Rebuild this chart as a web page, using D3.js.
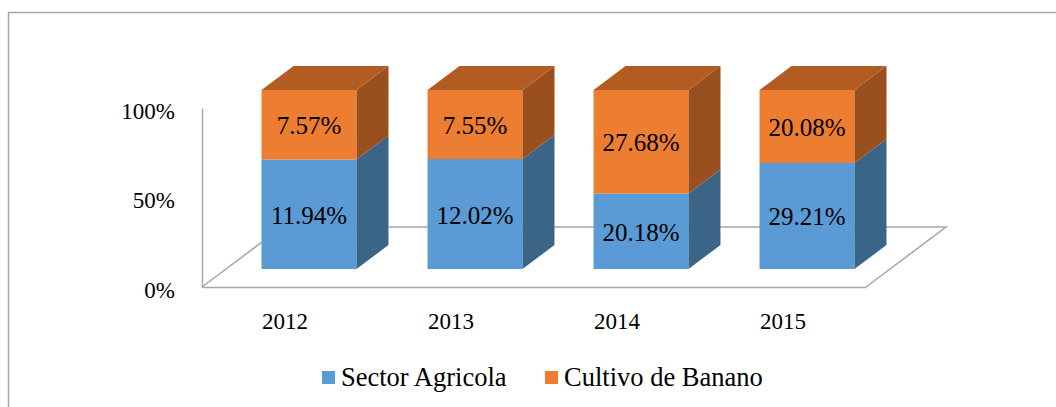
<!DOCTYPE html>
<html>
<head>
<meta charset="utf-8">
<script src="https://cdn.jsdelivr.net/npm/d3@7"></script>
<style>
  body { margin: 0; background: #fff; }
  svg { display: block; }
</style>
</head>
<body>
<svg id="chart" width="1056" height="407" font-family="Liberation Serif, Times New Roman, serif"></svg>
<script>
// datos
const years = ['2012', '2013', '2014', '2015']
const sectorAgricola = [11.94, 12.02, 20.18, 29.21]
const cultivoBanano = [7.57, 7.55, 27.68, 20.08]
const seriesNames = ['Sector Agricola', 'Cultivo de Banano']
const yTicks = [0, 0.5, 1]

const colors = {
  front: ['#5B9BD5', '#ED7D31'],
  side: ['#3A6587', '#9A4F1E'],
  top: ['#4A7FAF', '#B35C22']
}
const lineColor = '#A6A6A6'
const serif = 'Liberation Serif, Times New Roman, serif'

const svg = d3.select('#chart')
const W = 1056, H = 407

// marco exterior (solo se ven borde superior e izquierdo)
svg.append('rect')
  .attr('x', 8.5).attr('y', 12.5)
  .attr('width', W + 20).attr('height', H + 20)
  .attr('fill', 'none')
  .attr('stroke', lineColor)
  .attr('stroke-width', 1.5)

// plano frontal: suelo de x0 a x1 en y=0%
const x0 = 202, x1 = 866
const floorY = 287, topY = 108
// profundidad: vector de proyeccion (dx, dy) por unidad de profundidad
const depth = { dx: 0.8, dy: -0.6 }
const floorDepth = 100
const barZ0 = 30, barZ1 = 70

const proj = (x, y, z) => [x + z * depth.dx, y + z * depth.dy]

const x = d3.scaleBand()
  .domain(years)
  .range([x0, x1])
  .paddingInner(0.428)
  .paddingOuter(0.214)

const xCat = d3.scaleBand().domain(years).range([x0, x1]).padding(0)

const y = d3.scaleLinear().domain([0, 1]).range([floorY, topY])

// datos apilados al 100%
const table = years.map((yr, i) => ({ year: yr, s0: sectorAgricola[i], s1: cultivoBanano[i] }))
const stacked = d3.stack().keys(['s0', 's1']).offset(d3.stackOffsetExpand)(table)

// suelo
const line = d3.line()
const fl = [
  proj(x0, floorY, 0), proj(x1, floorY, 0),
  proj(x1, floorY, floorDepth), proj(x0, floorY, floorDepth)
]
svg.append('path')
  .attr('d', line([fl[1], fl[2], fl[3], fl[0]]))
  .attr('fill', 'none')
  .attr('stroke', lineColor)
  .attr('stroke-width', 1.5)

// eje de categorias (borde frontal del suelo)
const xAxis = svg.append('g')
  .attr('transform', `translate(0,${floorY})`)
  .call(d3.axisBottom(xCat).tickSize(0).tickSizeOuter(0).tickPadding(26))
xAxis.attr('font-family', serif).attr('font-size', 23)
xAxis.select('.domain').attr('stroke', lineColor).attr('stroke-width', 1.5)
xAxis.selectAll('text').attr('fill', '#000')

// eje de valores
const yAxis = svg.append('g')
  .attr('transform', `translate(${x0},0)`)
  .call(d3.axisLeft(y).tickValues(yTicks).tickFormat(d3.format('.0%'))
    .tickSize(0).tickSizeOuter(0).tickPadding(27))
yAxis.attr('font-family', serif).attr('font-size', 23)
yAxis.select('.domain').attr('stroke', lineColor).attr('stroke-width', 1.5)
yAxis.selectAll('text').attr('fill', '#000').attr('dy', '0.45em')

// barras 3D
const poly = pts => line(pts) + 'Z'
const bars = svg.append('g')
years.forEach((yr, i) => {
  const bx0 = x(yr), bx1 = x(yr) + x.bandwidth()
  stacked.forEach((s, k) => {
    const v0 = s[i][0], v1 = s[i][1]
    const ya = y(v0), yb = y(v1)
    const g = bars.append('g')
    // cara frontal
    const f = [proj(bx0, yb, barZ0), proj(bx1, yb, barZ0), proj(bx1, ya, barZ0), proj(bx0, ya, barZ0)]
    g.append('path').attr('d', poly(f)).attr('fill', colors.front[k])
    // lado derecho
    const sd = [proj(bx1, yb, barZ0), proj(bx1, yb, barZ1), proj(bx1, ya, barZ1), proj(bx1, ya, barZ0)]
    g.append('path').attr('d', poly(sd)).attr('fill', colors.side[k])
    // tapa
    if (k === stacked.length - 1) {
      const t = [proj(bx0, yb, barZ0), proj(bx1, yb, barZ0), proj(bx1, yb, barZ1), proj(bx0, yb, barZ1)]
      g.append('path').attr('d', poly(t)).attr('fill', colors.top[k])
    }
    // etiqueta
    const raw = k === 0 ? sectorAgricola[i] : cultivoBanano[i]
    const c = proj((bx0 + bx1) / 2, (ya + yb) / 2, barZ0)
    g.append('text')
      .attr('x', c[0]).attr('y', c[1])
      .attr('dy', '0.38em')
      .attr('text-anchor', 'middle')
      .attr('font-family', serif)
      .attr('font-size', 25)
      .attr('fill', '#000')
      .text(raw.toFixed(2) + '%')
  })
})

// leyenda
const legendX = [322, 545]
const legend = svg.append('g')
seriesNames.forEach((name, k) => {
  legend.append('rect')
    .attr('x', legendX[k]).attr('y', 371)
    .attr('width', 13).attr('height', 13)
    .attr('fill', colors.front[k])
  legend.append('text')
    .attr('x', legendX[k] + 19).attr('y', 386)
    .attr('font-family', serif)
    .attr('font-size', 26.5)
    .attr('fill', '#000')
    .text(name)
})
</script>
</body>
</html>
